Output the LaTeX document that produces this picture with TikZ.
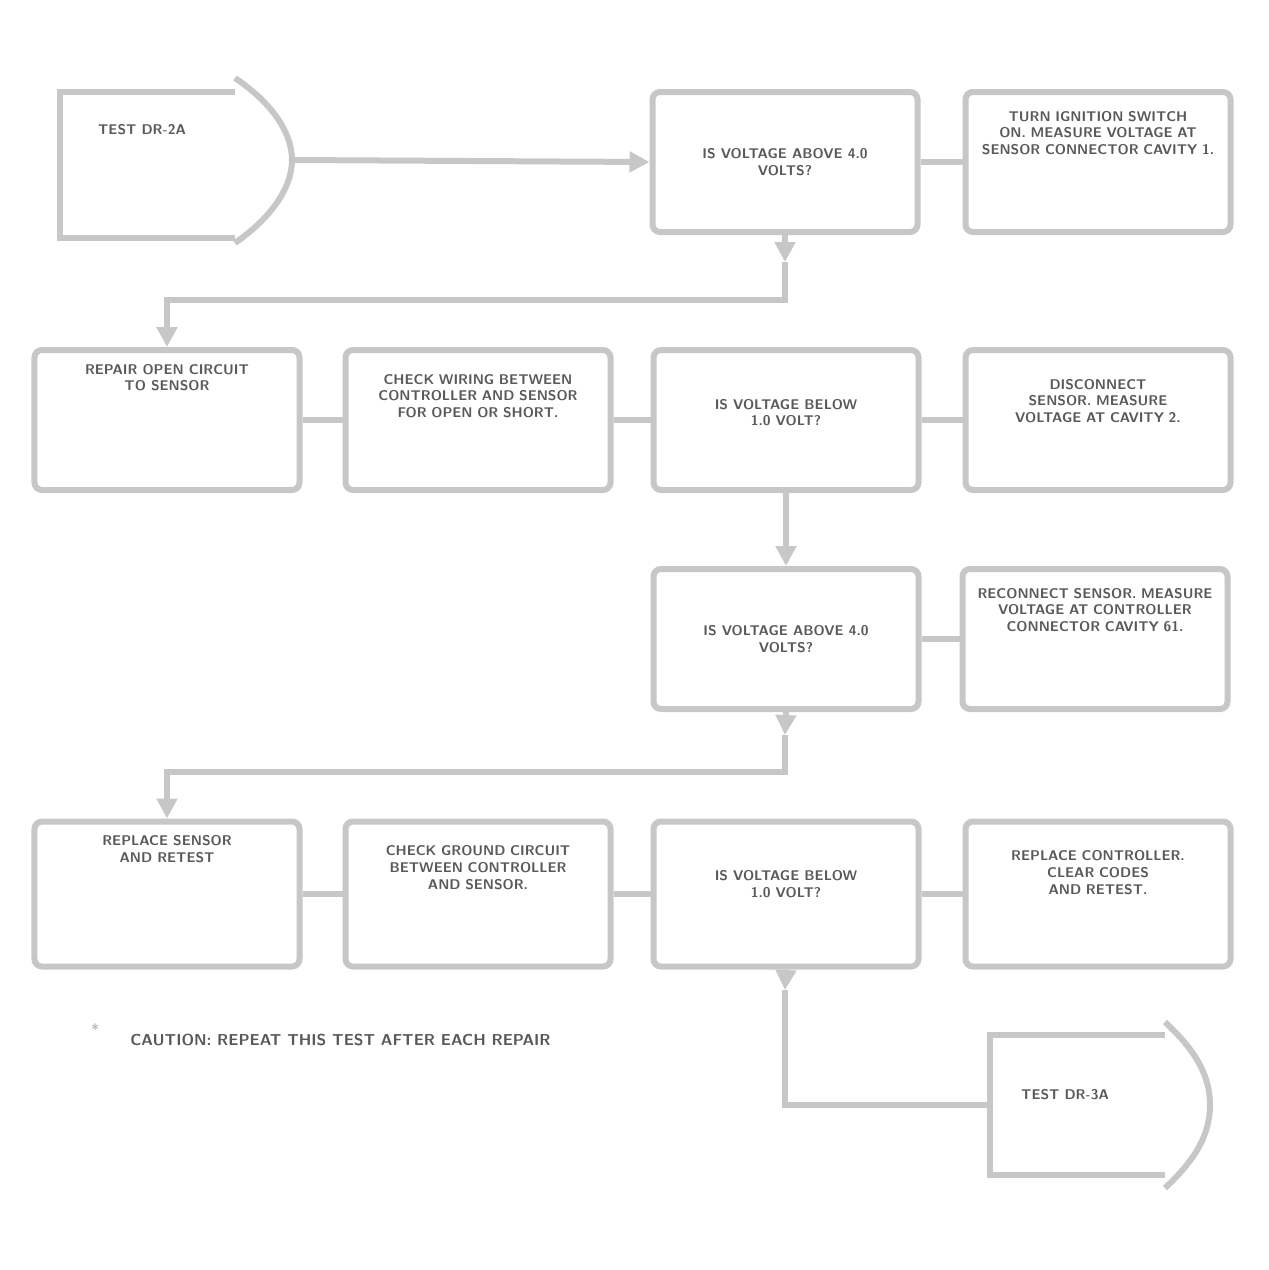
\documentclass[tikz,border=0pt]{standalone}
\usepackage{tikz}
\usetikzlibrary{arrows.meta,positioning}
\tikzset{
    every node/.style={font=\sffamily\bfseries\footnotesize, text=black!65},
}
\begin{document}
\begin{tikzpicture}[x=.2mm, y=-.2mm,
    line/.style={draw=black!22, line width=1.2mm},
    box/.style={line, rounded corners=1.5mm, minimum width=53mm, minimum height=28mm, inner sep=0},
    txt/.style={align=center, inner sep=1pt},
    dense/.style={txt, text width=40mm, execute at begin node={\hyphenpenalty=10000\relax}},
    wide/.style={dense, text width=48mm},
    arr/.style={line, -{Triangle[width=4mm,length=4mm]}}]
    \useasboundingbox (0,0) rectangle (1269,1270);

    % start symbol
    \draw[line] (235,92) -- (60,92) -- (60,238) -- (235,238);
    \draw[line] (235,78) .. controls (275,105) and (292,135) .. (292,160) .. controls (292,185) and (275,215) .. (235,243);
    \coordinate (startTip) at (292,160);
    \node[txt] (start) at (142,130) {TEST DR-2A};

    % row 1
    \node[box, txt] (tA) at (785,162) {IS VOLTAGE ABOVE 4.0\\VOLTS?};
    \node[box] (tB) at (1098,162) {};
    \node[wide, below=4mm of tB.north] (tBt) {TURN IGNITION SWITCH ON. MEASURE VOLTAGE AT SENSOR CONNECTOR CAVITY 1.};

    % row 2
    \node[box] (rC) at (167,420) {};
    \node[txt, below=3mm of rC.north] (rCt) {REPAIR OPEN CIRCUIT\\TO SENSOR};
    \node[box] (rD) at (478,420) {};
    \node[dense, below=5mm of rD.north] (rDt) {CHECK WIRING BETWEEN CONTROLLER AND SENSOR FOR OPEN OR SHORT.};
    \node[box] (rE) at (786,420) {};
    \node[txt, below=10mm of rE.north] (rEt) {IS VOLTAGE BELOW\\1.0 VOLT?};
    \node[box] (rF) at (1098,420) {};
    \node[dense, below=6mm of rF.north] (rFt) {DISCONNECT SENSOR. MEASURE VOLTAGE AT CAVITY 2.};

    % row 3
    \node[box, txt] (tG) at (786,639) {IS VOLTAGE ABOVE 4.0\\VOLTS?};
    \node[box] (tH) at (1095,639) {};
    \node[wide, below=4mm of tH.north] (tHt) {RECONNECT SENSOR. MEASURE VOLTAGE AT CONTROLLER CONNECTOR CAVITY 61.};

    % row 4
    \node[box, minimum height=29mm] (rI) at (167,894) {};
    \node[txt, below=3mm of rI.north] (rIt) {REPLACE SENSOR\\AND RETEST};
    \node[box, minimum height=29mm] (rJ) at (478,894) {};
    \node[dense, below=5mm of rJ.north] (rJt) {CHECK GROUND CIRCUIT BETWEEN CONTROLLER AND SENSOR.};
    \node[box, minimum height=29mm] (rK) at (786,894) {};
    \node[txt, below=10mm of rK.north] (rKt) {IS VOLTAGE BELOW\\1.0 VOLT?};
    \node[box, minimum height=29mm] (rL) at (1098,894) {};
    \node[dense, below=6mm of rL.north] (rLt) {REPLACE CONTROLLER. CLEAR CODES AND RETEST.};

    % end symbol
    \draw[line] (1165,1035) -- (990,1035) -- (990,1175) -- (1165,1175);
    \draw[line] (1165,1022) .. controls (1195,1050) and (1210,1075) .. (1210,1105) .. controls (1210,1135) and (1195,1160) .. (1165,1188);
    \coordinate (endIn) at (990,1105);
    \node[txt] (finish) at (1065,1095) {TEST DR-3A};

    \node[font=\sffamily\small, text=black!30, anchor=west] (mark) at (85,1030) {*};
    \node[font=\sffamily\bfseries\small, anchor=west, inner sep=0] (note) at (130,1040) {CAUTION: REPEAT THIS TEST AFTER EACH REPAIR};

    % connectors
    \coordinate (d1) at (785,262);
    \coordinate (b1) at (785,300);
    \coordinate (d2) at (785,735);
    \coordinate (b2) at (785,772);
    \coordinate (d3) at (785,990);

    \draw[arr] (startTip) -- (tA.west);
    \draw[line] (tA.east) -- (tB.west);
    \draw[arr] (tA.south) -- (d1);
    \draw[arr] (d1) -- (b1) -| (rC.north);
    \draw[line] (rC.east) -- (rD.west);
    \draw[line] (rD.east) -- (rE.west);
    \draw[line] (rE.east) -- (rF.west);
    \draw[arr] (rE.south) -- (tG.north);
    \draw[line] (tG.east) -- (tH.west);
    \draw[arr] (tG.south) -- (d2);
    \draw[arr] (d2) -- (b2) -| (rI.north);
    \draw[line] (rI.east) -- (rJ.west);
    \draw[line] (rJ.east) -- (rK.west);
    \draw[line] (rK.east) -- (rL.west);
    \draw[arr] (rK.south) -- (d3);
    \draw[line] (d3) |- (endIn);
\end{tikzpicture}
\end{document}
